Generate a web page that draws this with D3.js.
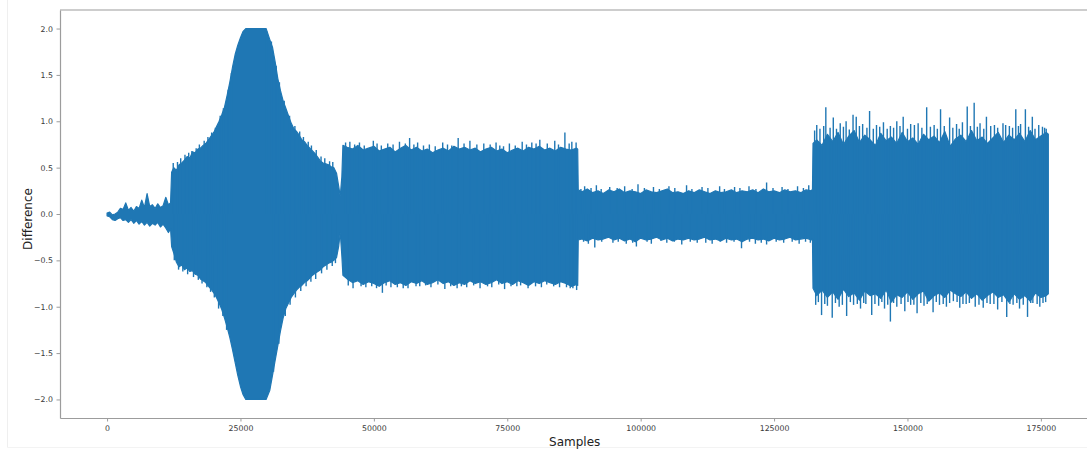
<!DOCTYPE html>
<html>
<head>
<meta charset="utf-8">
<script src="https://cdn.jsdelivr.net/npm/d3@7"></script>
<style>
  body { margin: 0; background: #ffffff; }
  text { font-family: "DejaVu Sans", sans-serif; }
</style>
</head>
<body>
<svg id="chart" width="1087" height="450"></svg>
<script>
// Waveform envelope: [position in thousands of samples, upper edge, lower edge]
const envelope = [
  // quiet lead-in
  [0,0.01,-0.02],[0.5,0.02,-0.03],[1,-0.01,-0.06],[1.5,0.00,-0.07],[2,0.02,-0.05],[2.5,0.06,-0.04],
  [3,0.05,-0.07],[3.5,0.12,-0.06],[4,0.04,-0.09],[4.5,0.07,-0.06],[5,0.03,-0.10],[5.5,0.08,-0.07],
  [6,0.06,-0.11],[6.5,0.15,-0.08],[7,0.07,-0.12],[7.5,0.22,-0.09],[8,0.08,-0.13],[8.5,0.10,-0.10],
  [9,0.06,-0.12],[9.5,0.11,-0.09],[10,0.07,-0.14],[10.5,0.09,-0.11],[11,0.18,-0.15],[11.5,0.10,-0.20],
  [11.9,0.12,-0.16],
  // swell up to clipping and back down
  [12.1,0.45,-0.35],[12.5,0.50,-0.42],[13,0.47,-0.52],[13.5,0.53,-0.57],[14,0.55,-0.55],[14.5,0.58,-0.60],
  [15,0.62,-0.58],[15.5,0.60,-0.62],[16,0.67,-0.61],[16.5,0.66,-0.65],[17,0.70,-0.66],[17.5,0.71,-0.70],
  [18,0.74,-0.72],[18.5,0.76,-0.74],[19,0.80,-0.78],[19.5,0.84,-0.81],[20,0.88,-0.85],[20.5,0.94,-0.90],
  [21,1.00,-0.96],[21.5,1.07,-1.03],[22,1.15,-1.12],[22.5,1.28,-1.22],[23,1.42,-1.33],[23.5,1.58,-1.46],
  [24,1.72,-1.60],[24.5,1.82,-1.74],[25,1.90,-1.86],[25.5,1.97,-1.95],[26,2.00,-2.00],[29.8,2.00,-2.00],
  [30.5,1.88,-1.90],[31,1.80,-1.74],[31.5,1.64,-1.58],[32,1.46,-1.42],[32.5,1.33,-1.26],[33,1.22,-1.12],
  [33.5,1.14,-1.02],[34,1.06,-0.96],[34.5,0.98,-0.90],[35,0.92,-0.86],[35.5,0.89,-0.82],[36,0.85,-0.79],
  [36.5,0.80,-0.77],[37,0.78,-0.74],[37.5,0.74,-0.72],[38,0.71,-0.69],[38.5,0.68,-0.66],[39,0.65,-0.64],
  [39.5,0.61,-0.62],[40,0.57,-0.60],[40.5,0.55,-0.57],[41,0.54,-0.55],[41.5,0.53,-0.53],[42,0.51,-0.52],
  [42.5,0.50,-0.50],[43,0.44,-0.47],[43.4,0.30,-0.35],[43.7,0.19,-0.20],[44.0,0.40,-0.45],
  // steady block at about ±0.72
  [44.2,0.74,-0.66],[45,0.72,-0.70],[46,0.70,-0.74],[47,0.74,-0.72],[48,0.69,-0.76],[49,0.71,-0.73],
  [50,0.73,-0.75],[51,0.68,-0.78],[52,0.70,-0.74],[53,0.72,-0.72],[54,0.67,-0.76],[55,0.71,-0.74],
  [56,0.74,-0.77],[57,0.69,-0.73],[58,0.72,-0.75],[59,0.68,-0.72],[60,0.70,-0.76],[61,0.66,-0.74],
  [62,0.69,-0.71],[63,0.71,-0.75],[64,0.68,-0.73],[65,0.73,-0.77],[66,0.70,-0.74],[67,0.72,-0.76],
  [68,0.69,-0.72],[69,0.71,-0.75],[70,0.67,-0.73],[71,0.70,-0.76],[72,0.72,-0.74],[73,0.68,-0.71],
  [74,0.70,-0.75],[75,0.66,-0.73],[76,0.69,-0.76],[77,0.71,-0.72],[78,0.68,-0.74],[79,0.72,-0.77],
  [80,0.70,-0.73],[81,0.73,-0.75],[82,0.69,-0.72],[83,0.71,-0.74],[84,0.68,-0.76],[85,0.72,-0.73],
  [86,0.70,-0.75],[87,0.69,-0.78],[88,0.71,-0.76],[88.2,0.70,-0.77],
  // quiet block at about ±0.25
  [88.3,0.26,-0.28],[89,0.24,-0.27],[90,0.27,-0.29],[91,0.23,-0.26],[92,0.25,-0.28],[93,0.22,-0.27],
  [94,0.26,-0.25],[95,0.24,-0.28],[96,0.27,-0.26],[97,0.23,-0.29],[98,0.25,-0.27],[99,0.24,-0.30],
  [100,0.22,-0.26],[101,0.26,-0.28],[102,0.24,-0.27],[103,0.23,-0.25],[104,0.25,-0.28],[105,0.27,-0.26],
  [106,0.23,-0.29],[107,0.24,-0.27],[108,0.22,-0.28],[109,0.25,-0.26],[110,0.23,-0.28],[111,0.26,-0.27],
  [112,0.24,-0.25],[113,0.22,-0.28],[114,0.25,-0.27],[115,0.23,-0.29],[116,0.24,-0.26],[117,0.26,-0.28],
  [118,0.23,-0.27],[119,0.25,-0.30],[120,0.24,-0.27],[121,0.26,-0.26],[122,0.23,-0.28],[123,0.27,-0.27],
  [124,0.24,-0.29],[125,0.25,-0.26],[126,0.23,-0.28],[127,0.26,-0.27],[128,0.24,-0.25],[129,0.25,-0.28],
  [130,0.23,-0.27],[131,0.26,-0.26],[132,0.25,-0.28],[132.2,0.27,-0.27],
  // loud noisy block
  [132.3,0.76,-0.80],[133,0.80,-0.88],[134,0.74,-0.82],[135,0.86,-0.90],[136,0.78,-0.84],[137,0.88,-0.92],
  [138,0.75,-0.81],[139,0.84,-0.89],[140,0.90,-0.85],[141,0.77,-0.93],[142,0.85,-0.83],[143,0.80,-0.88],
  [144,0.74,-0.86],[145,0.87,-0.91],[146,0.79,-0.82],[147,0.83,-0.95],[148,0.76,-0.87],[149,0.88,-0.90],
  [150,0.78,-0.84],[151,0.82,-0.92],[152,0.75,-0.86],[153,0.86,-0.83],[154,0.80,-0.94],[155,0.84,-0.88],
  [156,0.77,-0.85],[157,0.89,-0.90],[158,0.73,-0.82],[159,0.81,-0.86],[160,0.85,-0.89],[161,0.78,-0.84],
  [162,0.90,-0.91],[163,0.79,-0.86],[164,0.83,-0.93],[165,0.76,-0.88],[166,0.82,-0.84],[167,0.88,-0.90],
  [168,0.77,-0.87],[169,0.85,-0.95],[170,0.80,-0.86],[171,0.87,-0.92],[172,0.78,-0.88],[173,0.90,-0.94],
  [174,0.80,-0.85],[175,0.84,-0.90],[176,0.88,-0.88],[176.4,0.86,-0.86]
];

// Single-sample peaks above the upper edge: [thousands of samples, value]
const upperPeaksSwell = [
  [12.4,0.55],[13.2,0.56],[13.8,0.60],[14.6,0.64],[15.3,0.66],[15.9,0.68],[16.7,0.71],[17.3,0.75],
  [18.2,0.79],[18.9,0.83],[19.6,0.88],[20.3,0.93],[21.2,1.06],[21.8,1.14],[22.7,1.34],[23.3,1.52],
  [29.9,1.97],[30.8,1.86],[31.7,1.60],[32.3,1.42],[33.2,1.22],[34.2,1.06],[35.2,0.95],[36.1,0.89],
  [36.8,0.83],[37.7,0.78],[38.3,0.74],[39.2,0.69],[40.1,0.62],[40.8,0.60],[41.7,0.57],[42.3,0.56]
];
const upperPeaksSteady = [
  [44.7,0.77],[45.5,0.78],[46.4,0.75],[47.3,0.77],[48.2,0.74],[49.9,0.79],[50.6,0.76],[51.4,0.74],
  [52.6,0.76],[53.6,0.75],[54.8,0.78],[55.9,0.76],[56.7,0.82],[57.5,0.75],[58.2,0.77],[59.3,0.74],
  [60.4,0.75],[61.5,0.73],[62.9,0.77],[63.8,0.75],[64.6,0.74],[65.8,0.82],[66.9,0.76],[68.0,0.79],
  [69.3,0.75],[70.6,0.76],[71.8,0.75],[72.9,0.77],[73.6,0.74],[74.3,0.73],[75.4,0.76],[76.5,0.74],
  [77.8,0.78],[78.6,0.75],[79.6,0.77],[80.4,0.76],[81.1,0.80],[82.5,0.76],[83.9,0.79],[84.6,0.75],
  [85.8,0.88],[86.6,0.76],[87.1,0.78],[87.9,0.77]
];
const upperPeaksQuiet = [
  [88.8,0.27],[89.5,0.30],[90.7,0.28],[91.7,0.31],[92.6,0.27],[94.2,0.29],[95.6,0.28],[97.0,0.30],
  [98.4,0.27],[99.5,0.32],[100.7,0.28],[102.4,0.29],[103.5,0.27],[105.3,0.30],[106.4,0.28],[108.6,0.31],
  [109.6,0.27],[111.5,0.29],[112.6,0.28],[114.8,0.30],[115.7,0.27],[117.6,0.29],[118.6,0.28],[120.3,0.30],
  [121.6,0.27],[123.6,0.34],[124.8,0.28],[126.5,0.29],[127.6,0.27],[129.4,0.30],[130.5,0.28],[131.5,0.31]
];
const upperPeaksLoud = [
  [132.6,0.90],[133.0,0.96],[133.6,0.92],[134.3,0.95],[134.7,1.15],[135.5,0.93],[136.1,1.04],[136.7,0.92],
  [137.4,0.98],[138.0,0.94],[138.5,1.00],[139.1,0.91],[139.8,1.07],[140.4,1.05],[141.0,0.95],[141.6,0.97],
  [142.4,0.93],[142.9,1.11],[143.6,0.92],[144.2,0.96],[144.8,0.94],[145.5,0.99],[146.2,0.92],[146.8,0.95],
  [147.4,0.93],[148.0,1.00],[148.6,0.95],[149.2,1.05],[150.0,0.92],[150.6,0.97],[151.3,0.96],[152.0,0.98],
  [152.7,0.93],[153.6,1.15],[154.3,0.94],[155.0,0.96],[155.6,0.92],[156.2,1.13],[156.9,0.95],[157.9,1.04],
  [158.5,0.93],[159.2,0.97],[159.7,0.92],[160.3,0.99],[161.2,1.16],[161.8,0.95],[162.5,1.20],[163.1,0.94],
  [163.6,0.98],[164.3,0.92],[164.8,1.05],[165.6,0.95],[166.3,0.96],[166.9,0.93],[167.9,0.98],[168.4,0.96],
  [169.1,0.95],[169.7,0.93],[170.3,1.13],[170.8,0.95],[171.2,0.97],[172.1,1.13],[172.7,0.94],[173.4,1.05],
  [173.9,0.92],[174.6,0.96],[175.3,0.94],[175.7,0.93],[176.0,0.92]
];

// Single-sample peaks below the lower edge: [thousands of samples, value]
const lowerPeaksSwell = [
  [12.6,-0.50],[13.4,-0.60],[14.2,-0.62],[15.1,-0.65],[16.2,-0.68],[17.1,-0.71],[17.8,-0.75],[18.7,-0.79],
  [19.4,-0.84],[20.1,-0.90],[20.9,-1.02],[21.7,-1.10],[22.4,-1.25],[31.2,-1.70],[32.2,-1.40],[33.4,-1.10],
  [34.3,-0.98],[35.3,-0.90],[36.3,-0.83],[37.3,-0.78],[38.2,-0.73],[39.1,-0.70],[40.2,-0.64],[41.2,-0.60],
  [42.2,-0.56],[42.8,-0.53]
];
const lowerPeaksSteady = [
  [45.2,-0.77],[46.1,-0.80],[47.6,-0.78],[48.5,-0.79],[49.6,-0.78],[50.5,-0.80],[51.6,-0.85],[52.3,-0.77],
  [53.2,-0.79],[54.4,-0.79],[55.5,-0.80],[56.4,-0.80],[57.9,-0.78],[58.6,-0.78],[59.7,-0.77],[60.7,-0.79],
  [62.0,-0.76],[63.3,-0.81],[64.4,-0.78],[65.6,-0.80],[66.4,-0.78],[67.4,-0.79],[68.7,-0.77],[69.9,-0.80],
  [71.3,-0.78],[72.1,-0.79],[73.4,-0.76],[74.5,-0.81],[75.7,-0.78],[76.8,-0.78],[77.5,-0.77],[78.9,-0.80],
  [80.3,-0.78],[81.4,-0.79],[82.4,-0.76],[83.7,-0.78],[84.8,-0.79],[86.1,-0.79],[86.8,-0.80],[87.3,-0.80],
  [88.0,-0.82]
];
const lowerPeaksQuiet = [
  [89.3,-0.30],[90.2,-0.32],[91.4,-0.36],[92.7,-0.30],[94.8,-0.31],[95.8,-0.30],[97.3,-0.32],[98.5,-0.31],
  [99.2,-0.35],[101.2,-0.30],[102.0,-0.32],[103.8,-0.29],[104.9,-0.31],[106.3,-0.30],[107.7,-0.33],
  [109.3,-0.30],[110.6,-0.31],[112.2,-0.31],[113.4,-0.32],[114.9,-0.30],[116.1,-0.31],[117.5,-0.30],
  [118.9,-0.37],[120.4,-0.30],[121.5,-0.32],[122.6,-0.31],[123.6,-0.33],[125.4,-0.30],[126.8,-0.31],
  [128.4,-0.30],[129.7,-0.32],[130.9,-0.30],[131.8,-0.31]
];
const lowerPeaksLoud = [
  [132.8,-0.98],[133.3,-0.95],[133.9,-1.09],[134.5,-0.97],[135.0,-0.99],[135.9,-1.12],[136.5,-0.96],
  [137.2,-1.00],[137.8,-0.98],[138.6,-1.10],[139.3,-0.95],[139.9,-0.98],[140.6,-0.97],[141.2,-1.02],
  [141.8,-0.96],[142.2,-0.97],[143.3,-1.09],[143.9,-0.97],[144.6,-0.99],[145.2,-0.95],[145.7,-1.02],
  [146.3,-0.98],[146.8,-1.16],[147.4,-0.96],[148.0,-1.00],[148.8,-0.97],[149.5,-1.05],[150.1,-0.95],
  [150.6,-0.98],[151.2,-0.98],[151.8,-1.07],[152.5,-0.96],[153.1,-0.99],[153.7,-0.97],[154.8,-1.06],
  [155.4,-0.95],[156.0,-0.98],[156.7,-0.97],[157.3,-1.00],[157.9,-0.96],[158.6,-0.94],[159.3,-0.95],
  [159.8,-1.01],[160.4,-0.97],[161.0,-0.97],[161.6,-0.96],[162.7,-1.00],[163.4,-0.98],[164.2,-1.01],
  [164.9,-0.96],[165.5,-0.97],[166.2,-0.97],[166.9,-1.03],[167.7,-0.95],[168.6,-1.11],[169.2,-0.97],
  [169.8,-0.98],[170.5,-0.96],[171.0,-1.02],[171.7,-0.98],[172.5,-1.11],[173.1,-0.96],[173.5,-0.96],
  [174.3,-0.97],[174.8,-1.00],[175.4,-0.96],[175.9,-0.95]
];

const xTicks = [0, 25000, 50000, 75000, 100000, 125000, 150000, 175000];
const yTicks = [-2.0, -1.5, -1.0, -0.5, 0.0, 0.5, 1.0, 1.5, 2.0];
const xDomain = [-8820, 185220];
const yDomain = [-2.2, 2.2];

const svg = d3.select("#chart");
const plot = { left: 60, top: 10, right: 1095.4, bottom: 418 };
const lineColor = "#1f77b4";
const spineColor = "#9c9c9c";

const x = d3.scaleLinear().domain(xDomain).range([plot.left, plot.right]);
const y = d3.scaleLinear().domain(yDomain).range([plot.bottom, plot.top]);

// faint outer frame of the figure
svg.append("line").attr("x1", 7.5).attr("x2", 7.5).attr("y1", 0).attr("y2", 447.5)
  .attr("stroke", "#efefef").attr("stroke-width", 1);
svg.append("line").attr("x1", 7.5).attr("x2", 1087).attr("y1", 447.5).attr("y2", 447.5)
  .attr("stroke", "#f3f3f3").attr("stroke-width", 1);

svg.append("clipPath").attr("id", "plotClip").append("rect")
  .attr("x", plot.left).attr("y", plot.top)
  .attr("width", plot.right - plot.left).attr("height", plot.bottom - plot.top);

const g = svg.append("g").attr("clip-path", "url(#plotClip)");

// filled body of the dense waveform
const area = d3.area()
  .x(d => x(d[0] * 1000))
  .y0(d => y(d[2]))
  .y1(d => y(d[1]));

g.append("path")
  .datum(envelope)
  .attr("d", area)
  .attr("fill", lineColor)
  .attr("stroke", lineColor)
  .attr("stroke-width", 1.2)
  .attr("stroke-linejoin", "round");

// single-sample peaks poking out of the body
const peaks = [].concat(upperPeaksSwell, upperPeaksSteady, upperPeaksQuiet, upperPeaksLoud,
                        lowerPeaksSwell, lowerPeaksSteady, lowerPeaksQuiet, lowerPeaksLoud);
g.selectAll("line.peak")
  .data(peaks)
  .join("line")
  .attr("class", "peak")
  .attr("x1", d => x(d[0] * 1000))
  .attr("x2", d => x(d[0] * 1000))
  .attr("y1", y(0))
  .attr("y2", d => y(d[1]))
  .attr("stroke", lineColor)
  .attr("stroke-width", 1.4);

// axes
const fmt = d3.format(".1f");
const yAxis = d3.axisLeft(y).tickValues(yTicks).tickFormat(fmt)
  .tickSizeInner(3.5).tickSizeOuter(0).tickPadding(3.5);
const xAxis = d3.axisBottom(x).tickValues(xTicks).tickFormat(d3.format("d"))
  .tickSizeInner(3.5).tickSizeOuter(0).tickPadding(3.5);

const gy = svg.append("g").attr("transform", `translate(${plot.left},0)`).call(yAxis);
const gx = svg.append("g").attr("transform", `translate(0,${plot.bottom})`).call(xAxis);

[gx, gy].forEach(ax => {
  ax.select(".domain").attr("stroke", spineColor).attr("stroke-width", 1.2);
  ax.selectAll(".tick line").attr("stroke", spineColor).attr("stroke-width", 1);
  ax.selectAll(".tick text").attr("fill", "#3a3a3a").style("font-size", "7.8px")
    .style("font-family", "'DejaVu Sans', sans-serif");
});

// top spine (right spine falls outside the figure)
svg.append("line")
  .attr("x1", plot.left).attr("x2", 1087)
  .attr("y1", plot.top).attr("y2", plot.top)
  .attr("stroke", spineColor).attr("stroke-width", 1.2);

// axis titles
svg.append("text")
  .attr("x", (plot.left + plot.right) / 2 - 3)
  .attr("y", 445.5)
  .attr("text-anchor", "middle")
  .attr("fill", "#222")
  .style("font-size", "12px")
  .text("Samples");

svg.append("text")
  .attr("transform", "translate(31.5,219) rotate(-90)")
  .attr("text-anchor", "middle")
  .attr("fill", "#222")
  .style("font-size", "12px")
  .text("Difference");
</script>
</body>
</html>
